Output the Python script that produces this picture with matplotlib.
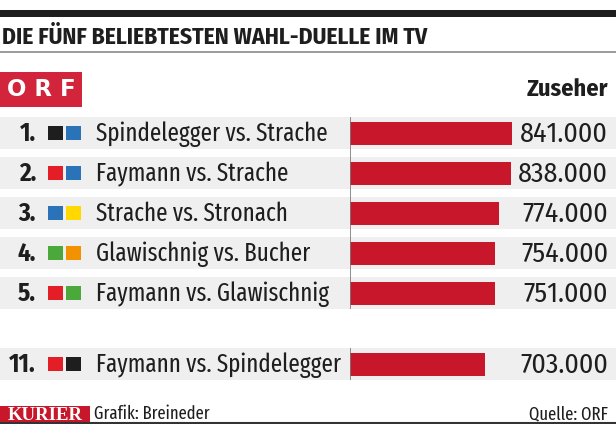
import matplotlib
matplotlib.use("Agg")
import matplotlib.pyplot as plt
from matplotlib.patches import Rectangle

# data
ranks = ["1.", "2.", "3.", "4.", "5.", "11."]
duels = [
    "Spindelegger vs. Strache",
    "Faymann vs. Strache",
    "Strache vs. Stronach",
    "Glawischnig vs. Bucher",
    "Faymann vs. Glawischnig",
    "Faymann vs. Spindelegger",
]
viewers = [841000, 838000, 774000, 754000, 751000, 703000]  # Zuseher
party_colors = [
    ("#1e1e1e", "#2a73b8"),
    ("#e31e26", "#2a73b8"),
    ("#2a73b8", "#ffd800"),
    ("#4aa93a", "#f39200"),
    ("#e31e26", "#4aa93a"),
    ("#e31e26", "#1e1e1e"),
]

W, H = 616, 424
COND = ["Fira Sans Condensed", "DejaVu Sans"]
XCOND = ["Fira Sans Extra Condensed", "Fira Sans Condensed", "DejaVu Sans"]
BAR_RED = "#c8172a"
BAND = "#efefef"
TXT = "#1e1e1e"

fig = plt.figure(figsize=(W / 100, H / 100), dpi=100)
bg = fig.add_axes([0, 0, 1, 1])
bg.set_xlim(0, W)
bg.set_ylim(H, 0)
bg.axis("off")

# row layout (pixel rows): five top rows, gap, then rank 11
row_y = [133 + 40 * i for i in range(5)] + [364]
band_h = 32

# header
bg.add_patch(Rectangle((0, 10), W, 7, color="#1e1e1e", lw=0))
bg.text(2, 37, "DIE FÜNF BELIEBTESTEN WAHL-DUELLE IM TV", family=COND,
        weight="bold", fontsize=17, color=TXT, va="center", ha="left")
bg.plot([0, W], [52, 52], color="#8a8a8a", lw=1.2)
bg.add_patch(Rectangle((0, 72), 82, 35, color="#d2243b", lw=0))
bg.text(41, 90, "O R F", family="DejaVu Sans", weight="bold", fontsize=16.5,
        color="white", va="center", ha="center")
bg.text(608, 89, "Zuseher", family=COND, weight="bold", fontsize=17.5,
        color=TXT, va="center", ha="right")

# rows
for i, y in enumerate(row_y):
    bg.add_patch(Rectangle((0, y - band_h / 2), W, band_h, color=BAND, lw=0))
    bg.text(36, y + 1, ranks[i], family=COND, weight="bold", fontsize=18,
            color=TXT, va="center", ha="right")
    c1, c2 = party_colors[i]
    bg.add_patch(Rectangle((48, y - 7), 15, 14, color=c1, lw=0))
    bg.add_patch(Rectangle((66, y - 7), 15, 14, color=c2, lw=0))
    bg.text(96, y + 1, duels[i], family=XCOND, fontsize=18,
            color=TXT, va="center", ha="left")
    label = f"{viewers[i]:,}".replace(",", ".")
    bg.text(608, y + 1, label, family=COND, fontsize=20,
            color=TXT, va="center", ha="right")

# bars on their own axes, x from zero at pixel 350
px_per_viewer = 162 / 841000
bar_ax = fig.add_axes([350 / W, 0, (W - 350) / W, 1])
bar_ax.set_xlim(0, (W - 350) / px_per_viewer)
bar_ax.set_ylim(H, 0)
bar_ax.axis("off")
bar_ax.patch.set_alpha(0)
bar_ax.barh(row_y, viewers, height=23, color=BAR_RED, left=0)
bar_ax.vlines(0, row_y[0] - band_h / 2, row_y[4] + band_h / 2, color="#7a7a7a", lw=1.2)
bar_ax.vlines(0, row_y[5] - band_h / 2, row_y[5] + band_h / 2, color="#7a7a7a", lw=1.2)

# footer
bg.add_patch(Rectangle((0, 406), 90, 18, color="#c8172a", lw=0))
bg.text(45, 415, "KURIER", family="Liberation Serif", weight="bold",
        fontsize=13.5, color="white", va="center", ha="center")
bg.text(94, 414, "Grafik: Breineder", family=XCOND, fontsize=13,
        color=TXT, va="center", ha="left")
bg.text(608, 414, "Quelle: ORF", family=XCOND, fontsize=13,
        color=TXT, va="center", ha="right")
bg.plot([0, W], [423, 423], color="#333333", lw=1.5)

fig.savefig("out.png", dpi=100)
plt.close(fig)
